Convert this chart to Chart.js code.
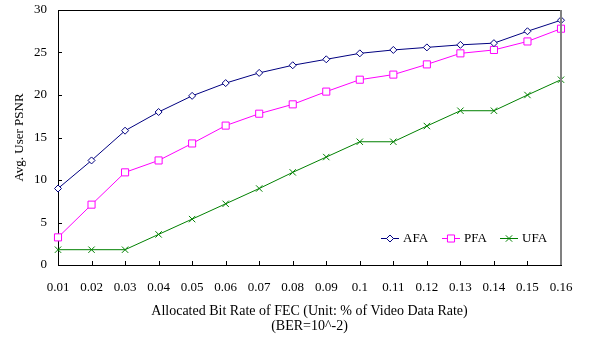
<!DOCTYPE html>
<html><head><meta charset="utf-8">
<script src="https://cdn.jsdelivr.net/npm/chart.js@4"></script>
<style>html,body{margin:0;padding:0;background:#fff}#wrap{width:589px;height:342px}</style>
</head><body><div id="wrap"><canvas id="c" width="589" height="342"></canvas></div>
<script>
const categories = ['0.01','0.02','0.03','0.04','0.05','0.06','0.07','0.08','0.09','0.1','0.11','0.12','0.13','0.14','0.15','0.16'];
const afa = [9.0,12.3,15.8,18.0,19.9,21.4,22.6,23.5,24.2,24.9,25.3,25.6,25.9,26.1,27.5,28.8];
const pfa = [3.25,7.1,10.9,12.3,14.3,16.4,17.8,18.9,20.4,21.8,22.4,23.6,24.9,25.3,26.3,27.8];
const ufa = [1.8,1.8,1.8,3.6,5.4,7.2,9.0,10.9,12.7,14.5,14.5,16.35,18.15,18.15,20.0,21.8];
const yTicks = [0,5,10,15,20,25,30];
const FONT = 'Liberation Serif';

const framePlugin = {
  id: 'frame',
  afterDatasetsDraw(chart) {
    const ctx = chart.ctx, a = chart.chartArea;
    const xs = chart.scales.x, ys = chart.scales.y;
    ctx.save();
    ctx.strokeStyle = '#000'; ctx.lineWidth = 1;
    ctx.beginPath();
    yTicks.forEach(v => { const y = Math.round(ys.getPixelForValue(v)) + 0.5; ctx.moveTo(a.left, y); ctx.lineTo(a.left + 4, y); });
    categories.forEach((c, i) => { const x = Math.round(xs.getPixelForValue(i)) + 0.5; ctx.moveTo(x, a.bottom); ctx.lineTo(x, a.bottom - 4); });
    ctx.stroke();
    ctx.beginPath(); ctx.moveTo(a.left, Math.round(a.top)+0.5); ctx.lineTo(a.right, Math.round(a.top)+0.5); ctx.stroke();
    ctx.strokeStyle = '#808080'; ctx.lineWidth = 2;
    ctx.beginPath(); ctx.moveTo(Math.round(a.right), a.top); ctx.lineTo(Math.round(a.right), a.bottom); ctx.stroke();
    // legend
    const items = [{x:381, ds:0},{x:442, ds:1},{x:500, ds:2}];
    const ly = 238;
    ctx.font = '13px "' + FONT + '"';
    ctx.textBaseline = 'middle'; ctx.textAlign = 'left'; ctx.fillStyle = '#000';
    items.forEach(it => {
      const ds = chart.data.datasets[it.ds];
      ctx.strokeStyle = ds.borderColor; ctx.lineWidth = 1;
      ctx.beginPath(); ctx.moveTo(it.x, ly + 0.5); ctx.lineTo(it.x + 18, ly + 0.5); ctx.stroke();
      ctx.fillStyle = '#fff';
      Chart.helpers.drawPoint(ctx, {pointStyle: ds.pointStyle, radius: ds.pointRadius, borderWidth: 1, rotation: 0}, it.x + 9, ly + 0.5);
      ctx.fillStyle = '#000';
      ctx.fillText(ds.label, it.x + 22, ly + 1);
    });
    ctx.restore();
  }
};

new Chart(document.getElementById('c'), {
  type: 'line',
  data: {
    labels: categories,
    datasets: [
      {label:'AFA', data: afa, borderColor:'#000080', backgroundColor:'#fff', borderWidth:1, pointStyle:'rectRot', pointRadius:3.5, pointBorderWidth:1, pointBackgroundColor:'#fff', pointBorderColor:'#000080'},
      {label:'PFA', data: pfa, borderColor:'#ff00ff', backgroundColor:'#fff', borderWidth:1, pointStyle:'rect', pointRadius:5, pointBorderWidth:1, pointBackgroundColor:'#fff', pointBorderColor:'#ff00ff'},
      {label:'UFA', data: ufa, borderColor:'#008000', backgroundColor:'#fff', borderWidth:1, pointStyle:'crossRot', pointRadius:4.5, pointBorderWidth:1, pointBackgroundColor:'#fff', pointBorderColor:'#008000'}
    ]
  },
  options: {
    responsive: false, animation: false, devicePixelRatio: 1,
    layout: {padding: {left: 0, right: 28, top: 10, bottom: 0}},
    plugins: {legend: {display: false}, tooltip: {enabled: false}},
    scales: {
      x: {
        type: 'category', offset: false,
        grid: {display: false, drawTicks: false},
        border: {display: true, color: '#000', width: 1},
        ticks: {color: '#000', font: {family: FONT, size: 13}, padding: 15, maxRotation: 0, autoSkip: false},
        title: {display: true, text: ['Allocated Bit Rate of FEC (Unit: % of Video Data Rate)', '(BER=10^-2)'], color: '#000', font: {family: FONT, size: 14, lineHeight: 1.07}, padding: {top: 0, bottom: 8}},
        afterFit(s) { s.height = 77; }
      },
      y: {
        min: 0, max: 30,
        grid: {display: false, drawTicks: false},
        border: {display: true, color: '#000', width: 1},
        ticks: {color: '#000', font: {family: FONT, size: 13}, padding: 11, stepSize: 5},
        afterBuildTicks(s) { s.ticks = yTicks.map(v => ({value: v})); },
        title: {display: true, text: 'Avg. User PSNR', color: '#000', font: {family: FONT, size: 13}, padding: {top: 12, bottom: 0}},
        afterFit(s) { s.width = 58; s.paddingTop = 0; s.paddingBottom = 0; }
      }
    }
  },
  plugins: [framePlugin]
});
</script></body></html>
